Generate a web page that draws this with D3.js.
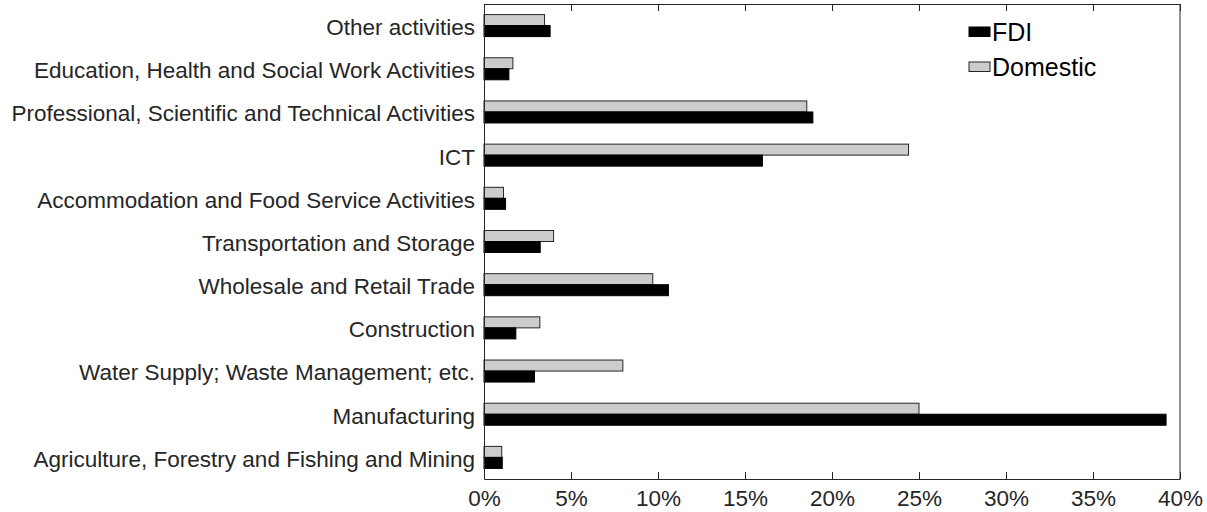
<!DOCTYPE html>
<html>
<head>
<meta charset="utf-8">
<script src="https://cdn.jsdelivr.net/npm/d3@7"></script>
<style>
  body { margin: 0; background: #fff; }
  text { font-family: "Liberation Sans", Arial, sans-serif; fill: #262626; }
  .axis path, .axis line { stroke: #262626; }
</style>
</head>
<body>
<div id="chart"></div>
<script>
// sectors, bottom to top as drawn
const sectors = [
  'Agriculture, Forestry and Fishing and Mining',
  'Manufacturing',
  'Water Supply; Waste Management; etc.',
  'Construction',
  'Wholesale and Retail Trade',
  'Transportation and Storage',
  'Accommodation and Food Service Activities',
  'ICT',
  'Professional, Scientific and Technical Activities',
  'Education, Health and Social Work Activities',
  'Other activities'
];
const fdiShare = [1.05, 39.2, 2.9, 1.83, 10.6, 3.23, 1.24, 16.0, 18.9, 1.43, 3.8];
const domesticShare = [1.02, 25.0, 7.98, 3.21, 9.7, 4.0, 1.12, 24.4, 18.55, 1.66, 3.48];
const xTicks = [0, 5, 10, 15, 20, 25, 30, 35, 40];
const seriesNames = ['FDI', 'Domestic'];

const width = 1207, height = 512;
const margin = {top: 4, right: 27, bottom: 33, left: 484};
const chartWidth = width - margin.left - margin.right,
      chartHeight = height - margin.top - margin.bottom;

const svg = d3.select('#chart').append('svg')
  .attr('width', width)
  .attr('height', height);

const chart = svg.append('g')
  .attr('transform', `translate(${margin.left}, ${margin.top})`);

let x = d3.scaleLinear().domain([0, 40]).range([0, chartWidth]);

// top of chart is last sector
let y = d3.scaleBand().domain(sectors.slice().reverse()).range([0, chartHeight]);
let barH = y.bandwidth() * 0.255;

let data = sectors.map((s, i) => ({sector: s, fdi: fdiShare[i], dom: domesticShare[i]}));

// domestic bars (upper)
chart.append('g')
  .selectAll('rect')
  .data(data)
  .enter().append('rect')
  .attr('x', 0)
  .attr('y', d => y(d.sector) + y.bandwidth() / 2 - barH)
  .attr('width', d => x(d.dom))
  .attr('height', barH)
  .attr('fill', '#cccccc')
  .attr('stroke', '#262626')
  .attr('stroke-width', 1);

// fdi bars (lower)
chart.append('g')
  .selectAll('rect')
  .data(data)
  .enter().append('rect')
  .attr('x', 0)
  .attr('y', d => y(d.sector) + y.bandwidth() / 2)
  .attr('width', d => x(d.fdi))
  .attr('height', barH)
  .attr('fill', '#000')
  .attr('stroke', '#000')
  .attr('stroke-width', 1);

// axes
let xAxis = d3.axisBottom(x)
  .tickValues(xTicks)
  .tickFormat(d => d + '%')
  .tickSizeInner(-7)
  .tickSizeOuter(0)
  .tickPadding(11);

chart.append('g')
  .attr('class', 'axis axis--x')
  .attr('transform', `translate(0, ${chartHeight})`)
  .call(xAxis)
  .call(g => g.selectAll('text').attr('font-size', 22.5).style('fill', '#262626'));

chart.append('g')
  .attr('class', 'axis axis--top')
  .call(d3.axisTop(x).tickValues(xTicks).tickFormat('').tickSizeInner(-7).tickSizeOuter(0));

let yAxis = d3.axisLeft(y).tickSize(0).tickPadding(9);
chart.append('g')
  .attr('class', 'axis axis--y')
  .call(yAxis)
  .call(g => g.selectAll('text').attr('font-size', 22.5).attr('dy', '0.42em').style('fill', '#262626'));

chart.append('line')
  .attr('x1', chartWidth).attr('x2', chartWidth)
  .attr('y1', 0).attr('y2', chartHeight)
  .attr('stroke', '#262626');

// legend
const legend = svg.append('g').attr('transform', 'translate(969, 27)');
const legendFill = ['#000', '#cccccc'];
const legendStroke = ['#000', '#262626'];
legend.selectAll('rect')
  .data(seriesNames)
  .enter().append('rect')
  .attr('x', 0)
  .attr('y', (d, i) => i * 35)
  .attr('width', 21)
  .attr('height', 9.5)
  .attr('fill', (d, i) => legendFill[i])
  .attr('stroke', (d, i) => legendStroke[i]);

legend.selectAll('text')
  .data(seriesNames)
  .enter().append('text')
  .attr('x', 23)
  .attr('y', (d, i) => i * 35 + 14)
  .attr('font-size', 25)
  .style('fill', '#000')
  .text(d => d);
</script>
</body>
</html>
